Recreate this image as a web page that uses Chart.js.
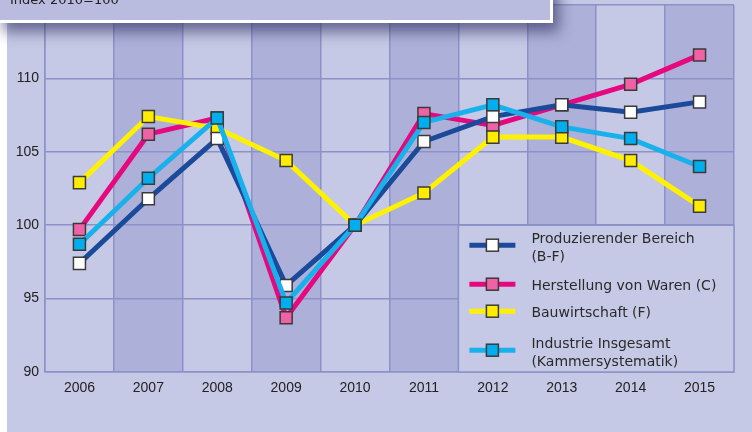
<!DOCTYPE html>
<html>
<head>
<meta charset="utf-8">
<script src="https://cdn.jsdelivr.net/npm/chart.js@4"></script>
<style>
  body { margin: 0; background: #ffffff; }
  #wrap { position: relative; width: 752px; height: 432px; overflow: hidden; }
  #panel { position: absolute; left: 7px; top: 0; width: 745px; height: 432px; background: #c6c9e5; }
  #chart { position: absolute; left: 0; top: 0; }
  #titlebox {
    position: absolute; left: -3px; top: -20px; width: 550px; height: 37px;
    background: #b9bcdf; border: 3px solid #ffffff;
    box-shadow: 6px 9px 14px rgba(50, 52, 100, 0.65);
  }
  #titlebox span {
    position: absolute; left: 10px; top: 9px;
    font: 13px "DejaVu Sans", sans-serif; color: #222;
  }
</style>
</head>
<body>
<div id="wrap">
  <div id="panel"></div>
  <canvas id="chart" width="752" height="432"></canvas>
  <div id="titlebox"><span>Index 2010=100</span></div>
</div>
<script>
// Jahre und Indexwerte (2010 = 100)
const years = ["2006", "2007", "2008", "2009", "2010", "2011", "2012", "2013", "2014", "2015"];
const produzierend = [97.4, 101.8, 105.9, 95.9, 100, 105.7, 107.4, 108.2, 107.7, 108.4];
const herstellung = [99.7, 106.2, 107.3, 93.7, 100, 107.6, 106.8, 108.2, 109.6, 111.6];
const bauwirtschaft = [102.9, 107.4, 106.6, 104.4, 100, 102.2, 106.0, 106.0, 104.4, 101.3];
const industrie = [98.7, 103.2, 107.3, 94.7, 100, 107.0, 108.2, 106.7, 105.9, 104.0];

const legendLabels = [
    ["Produzierender Bereich", "(B-F)"],
    ["Herstellung von Waren (C)"],
    ["Bauwirtschaft (F)"],
    ["Industrie Insgesamt", "(Kammersystematik)"]
];

const gridColor = "#8c92c8";

function serie(label, data, line, marker, order) {
    return {
        label: label.join(" "),
        data: data,
        borderColor: line,
        backgroundColor: marker,
        borderWidth: 5,
        tension: 0,
        pointStyle: "rect",
        pointRadius: 8.5,
        pointHoverRadius: 8.5,
        pointBackgroundColor: marker,
        pointBorderColor: "#3a3a3a",
        pointBorderWidth: 1.5,
        order: order
    };
}

// Abwechselnde Spaltenhintergruende
const bandsPlugin = {
    id: "bands",
    beforeDraw(chart) {
        const ctx = chart.ctx;
        const a = chart.chartArea;
        const x = chart.scales.x;
        ctx.save();
        ctx.fillStyle = "#c6c9e5";
        ctx.fillRect(a.left, a.top, a.right - a.left, a.bottom - a.top);
        ctx.fillStyle = "#adb1d9";
        for (let i = 1; i < years.length; i += 2) {
            const l = x.getPixelForValue(i - 0.5);
            const r = x.getPixelForValue(i + 0.5);
            ctx.fillRect(l, a.top, r - l, a.bottom - a.top);
        }
        ctx.restore();
    }
};

// Legende unten rechts im Diagramm
const boxLegend = {
    id: "boxLegend",
    beforeDatasetsDraw(chart) {
        const ctx = chart.ctx;
        const a = chart.chartArea;
        const left = chart.scales.x.getPixelForValue(5.5);
        const top = chart.scales.y.getPixelForValue(100);
        ctx.save();
        ctx.fillStyle = "#c6c9e5";
        ctx.fillRect(left, top, a.right - left, a.bottom - top);
        ctx.strokeStyle = gridColor;
        ctx.lineWidth = 1.5;
        ctx.strokeRect(left, top, a.right - left, a.bottom - top);

        const rows = [20, 59, 86, 125];
        ctx.font = "14px 'DejaVu Sans', sans-serif";
        ctx.textBaseline = "middle";
        chart.data.datasets.forEach((ds, i) => {
            const y = top + rows[i];
            ctx.strokeStyle = ds.borderColor;
            ctx.lineWidth = 5;
            ctx.beginPath();
            ctx.moveTo(left + 11, y);
            ctx.lineTo(left + 57, y);
            ctx.stroke();
            ctx.fillStyle = ds.pointBackgroundColor;
            ctx.fillRect(left + 28, y - 6, 12, 12);
            ctx.strokeStyle = "#3a3a3a";
            ctx.lineWidth = 1.5;
            ctx.strokeRect(left + 28, y - 6, 12, 12);
            ctx.fillStyle = "#2a2a2a";
            const lines = legendLabels[i];
            if (lines.length === 1) {
                ctx.fillText(lines[0], left + 73, y + 2);
            } else {
                ctx.fillText(lines[0], left + 73, y - 6);
                ctx.fillText(lines[1], left + 73, y + 12);
            }
        });
        ctx.restore();
    }
};

new Chart(document.getElementById("chart"), {
    type: "line",
    data: {
        labels: years,
        datasets: [
            serie(legendLabels[0], produzierend, "#1b4a9a", "#ffffff", 1),
            serie(legendLabels[1], herstellung, "#e6087f", "#f062a6", 3),
            serie(legendLabels[2], bauwirtschaft, "#fff200", "#ffec00", 2),
            serie(legendLabels[3], industrie, "#18b1ec", "#00aeef", 0)
        ]
    },
    options: {
        responsive: false,
        animation: false,
        layout: { autoPadding: false, padding: { left: 0, top: 5, right: 18, bottom: 0 } },
        plugins: {
            legend: { display: false },
            tooltip: { enabled: false }
        },
        scales: {
            x: {
                offset: true,
                grid: { offset: true, color: gridColor, lineWidth: 1.5, drawTicks: false },
                border: { color: gridColor, width: 1.5 },
                ticks: { color: "#222", padding: 8, font: { family: "Liberation Sans", size: 14 } },
                afterFit(scale) { scale.height = 60; }
            },
            y: {
                min: 90,
                max: 115,
                grid: { color: gridColor, lineWidth: 1.5, drawTicks: false },
                border: { color: gridColor, width: 1.5 },
                ticks: {
                    stepSize: 5,
                    color: "#222",
                    padding: 6,
                    font: { family: "Liberation Sans", size: 14 },
                    callback: v => (v === 115 ? "" : v)
                },
                afterFit(scale) {
                    scale.width = 45;
                    scale.paddingTop = 0;
                    scale.paddingBottom = 0;
                }
            }
        }
    },
    plugins: [bandsPlugin, boxLegend]
});
</script>
</body>
</html>
